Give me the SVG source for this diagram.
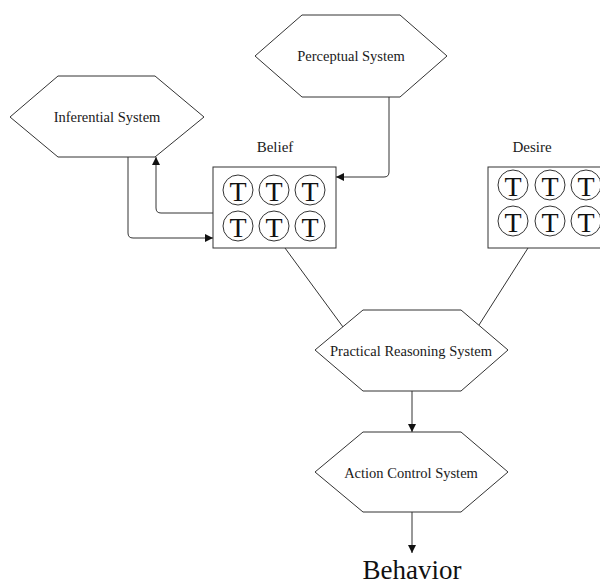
<svg xmlns="http://www.w3.org/2000/svg" width="600" height="584" viewBox="0 0 600 584">
<defs>
<style>
.hex{fill:#fff;stroke:#333;stroke-width:1}
.box{fill:#fff;stroke:#333;stroke-width:1}
.c{fill:#fff;stroke:#333;stroke-width:1}
.lbl{font-family:"Liberation Serif",serif;font-size:14.5px;fill:#1a1a1a;text-anchor:middle;dominant-baseline:central}
.t{font-family:"Liberation Serif",serif;font-size:28px;fill:#111;text-anchor:middle;dominant-baseline:central}
.ttl{font-family:"Liberation Serif",serif;font-size:15px;fill:#1a1a1a;text-anchor:middle}
.big{font-family:"Liberation Serif",serif;font-size:27px;fill:#111;text-anchor:middle}
.edge{fill:none;stroke:#333;stroke-width:1}
</style>
<marker id="arr" viewBox="0 0 10 10" refX="10" refY="5" markerWidth="8" markerHeight="8" markerUnits="userSpaceOnUse" orient="auto">
<path d="M0,0 L10,5 L0,10 z" fill="#111"/>
</marker>
<g id="tcircle">
<circle class="c" cx="0" cy="0" r="15"/>
<text class="t" x="0" y="1">T</text>
</g>
</defs>
<rect width="600" height="584" fill="#fff"/>

<g id="connectors">
<path class="edge" d="M389,97 V172 Q389,177 384,177 H336" marker-end="url(#arr)"/>
<path class="edge" d="M213,213 H161 Q156,213 156,208 V157" marker-end="url(#arr)"/>
<path class="edge" d="M128,157 V233 Q128,238 133,238 H213" marker-end="url(#arr)"/>
<path class="edge" d="M285,248 L343,327"/>
<path class="edge" d="M528,248 L479,325"/>
<path class="edge" d="M412,391 V432" marker-end="url(#arr)"/>
<path class="edge" d="M412,512 V553" marker-end="url(#arr)"/>
</g>

<g id="inferential">
<polygon class="hex" points="10,117 58,76 155,76 204,117 155,157 58,157"/>
<text class="lbl" x="107" y="117">Inferential System</text>
</g>

<g id="perceptual">
<polygon class="hex" points="255,56 302,15 400,15 447,56 400,97 302,97"/>
<text class="lbl" x="351" y="56">Perceptual System</text>
</g>

<g id="belief">
<text class="ttl" x="275" y="152">Belief</text>
<rect class="box" x="213" y="167" width="123" height="81"/>
<use href="#tcircle" x="238" y="190"/>
<use href="#tcircle" x="274" y="190"/>
<use href="#tcircle" x="310" y="190"/>
<use href="#tcircle" x="238" y="226"/>
<use href="#tcircle" x="274" y="226"/>
<use href="#tcircle" x="310" y="226"/>
</g>

<g id="desire">
<text class="ttl" x="532" y="152">Desire</text>
<rect class="box" x="488" y="167" width="123" height="81"/>
<use href="#tcircle" x="513" y="185"/>
<use href="#tcircle" x="550" y="185"/>
<use href="#tcircle" x="586" y="185"/>
<use href="#tcircle" x="513" y="221"/>
<use href="#tcircle" x="550" y="221"/>
<use href="#tcircle" x="586" y="221"/>
</g>

<g id="practical">
<polygon class="hex" points="315,350 363,310 461,310 508,350 461,391 363,391"/>
<text class="lbl" x="411" y="351">Practical Reasoning System</text>
</g>

<g id="action">
<polygon class="hex" points="315,472 363,432 461,432 508,472 461,512 363,512"/>
<text class="lbl" x="411" y="473">Action Control System</text>
</g>

<g id="behavior">
<text class="big" x="412" y="579">Behavior</text>
</g>
</svg>
